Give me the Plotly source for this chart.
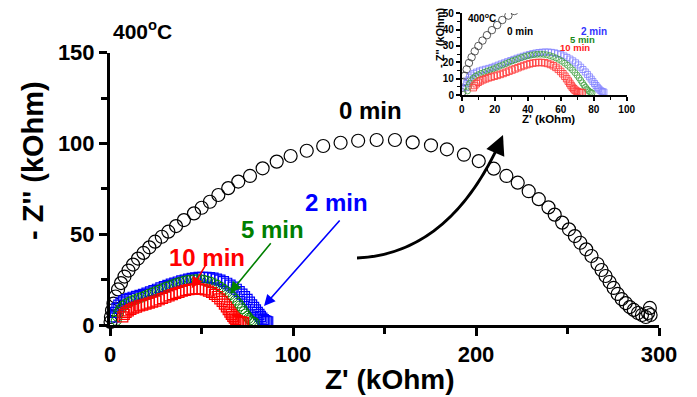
import plotly.graph_objects as go

# ---------------- data (kOhm) ----------------
z0_x = [0.3, 0.5, 1.1, 1.9, 3.0, 4.4, 6.0, 7.9, 10.1, 12.6, 15.3, 18.3, 21.5, 24.6, 28.3, 31.9,
        36.1, 40.4, 45.9, 50.1, 54.6, 59.2, 64.6, 70.1, 76.5, 83.4, 91.1, 98.7, 107.5, 116.5,
        126.0, 135.6, 145.7, 155.7, 165.4, 175.4, 184.1, 193.4, 201.5, 209.7, 216.6, 222.8,
        228.8, 234.3, 239.6, 243.0, 247.1, 250.8, 254.0, 257.0, 260.2, 263.1, 266.4, 268.6,
        270.8, 273.0, 275.2, 277.4, 279.6, 281.8, 284.0, 286.2, 288.5, 290.7, 292.8, 294.0,
        295.0, 295.4]
z0_y = [1.7, 4.4, 8.0, 11.8, 15.7, 19.6, 23.1, 26.7, 30.0, 33.3, 36.6, 39.7, 42.8, 45.9, 48.6,
        51.4, 54.5, 57.8, 61.5, 64.6, 67.9, 71.6, 75.4, 79.0, 82.1, 86.3, 90.0, 93.1, 96.0, 98.6,
        100.4, 101.5, 101.9, 101.9, 100.6, 99.0, 96.8, 93.8, 90.3, 86.1, 82.1, 78.4, 73.7, 69.3,
        64.8, 60.8, 56.4, 52.7, 49.0, 45.3, 41.7, 38.0, 33.6, 30.3, 27.0, 23.7, 20.4, 17.1, 14.3,
        12.1, 9.9, 8.3, 6.6, 5.5, 4.4, 6.6, 9.4, 5.5]

z2_x = [2.5, 3.0, 3.8, 4.8, 6.0, 7.4, 9.0, 10.8, 12.6, 14.5, 16.4, 18.3, 20.2, 22.1, 24.0, 25.9,
        27.8, 29.7, 31.6, 33.5, 35.4, 37.3, 39.2, 41.1, 43.0, 44.9, 46.8, 48.7, 50.6, 52.5, 54.4,
        56.3, 58.2, 60.1, 62.0, 63.8, 65.6, 67.3, 69.0, 70.6, 72.1, 73.5, 74.9, 76.2, 77.4, 78.5,
        79.5, 80.5, 81.4, 82.2, 83.0, 83.8, 84.6, 85.4, 86.2]
z2_y = [4.5, 7.0, 9.2, 10.9, 12.2, 13.2, 14.0, 14.7, 15.3, 15.8, 16.3, 16.9, 17.6, 18.3, 19.0,
        19.7, 20.4, 21.1, 21.8, 22.5, 23.1, 23.7, 24.3, 24.8, 25.3, 25.7, 26.0, 26.2, 26.3, 26.3,
        26.1, 25.8, 25.3, 24.7, 23.9, 23.0, 22.0, 20.9, 19.7, 18.4, 17.0, 15.6, 14.1, 12.6, 11.1,
        9.7, 8.3, 7.0, 5.8, 4.7, 3.8, 3.0, 2.4, 2.0, 1.8]

z5_x = [3.5, 4.0, 4.8, 5.8, 7.0, 8.4, 10.0, 11.7, 13.5, 15.3, 17.2, 19.1, 21.0, 22.9, 24.8, 26.7,
        28.6, 30.5, 32.4, 34.3, 36.2, 38.1, 40.0, 41.9, 43.8, 45.7, 47.6, 49.5, 51.4, 53.3, 55.2,
        57.1, 58.9, 60.7, 62.4, 64.1, 65.7, 67.2, 68.6, 69.9, 71.1, 72.2, 73.2, 74.1, 75.0, 75.8,
        76.6, 77.4, 78.2, 79.0]
z5_y = [2.5, 4.8, 7.0, 8.8, 10.3, 11.5, 12.4, 13.2, 13.9, 14.6, 15.3, 16.0, 16.8, 17.6, 18.4,
        19.2, 20.0, 20.8, 21.5, 22.2, 22.9, 23.5, 24.0, 24.4, 24.7, 24.9, 25.0, 24.9, 24.6, 24.1,
        23.5, 22.7, 21.8, 20.7, 19.5, 18.2, 16.8, 15.3, 13.7, 12.1, 10.5, 8.9, 7.4, 6.0, 4.8, 3.7,
        2.8, 2.1, 1.6, 1.3]

z10_x = [7.0, 7.8, 8.8, 10.0, 11.4, 12.9, 14.5, 16.2, 17.9, 19.7, 21.5, 23.3, 25.1, 26.9, 28.7,
         30.5, 32.3, 34.1, 35.9, 37.7, 39.5, 41.3, 43.1, 44.9, 46.7, 48.5, 50.3, 52.1, 53.8, 55.5,
         57.1, 58.6, 60.0, 61.3, 62.5, 63.6, 64.6, 65.5, 66.3, 67.1, 67.9, 68.7, 69.5, 70.3, 71.2,
         72.1, 73.0]
z10_y = [4.5, 5.8, 6.9, 7.8, 8.6, 9.3, 9.9, 10.5, 11.0, 11.5, 12.0, 12.6, 13.2, 13.9, 14.6, 15.3,
         16.0, 16.7, 17.4, 18.0, 18.6, 19.1, 19.5, 19.8, 19.9, 19.9, 19.7, 19.3, 18.7, 17.9, 16.9,
         15.7, 14.4, 13.0, 11.5, 10.0, 8.5, 7.1, 5.8, 4.7, 3.8, 3.0, 2.4, 2.0, 1.7, 1.5, 1.4]

labels = ["0 min", "2 min", "5 min", "10 min"]
main_x_ticks = [0, 100, 200, 300]
main_y_ticks = [0, 50, 100, 150]
inset_x_ticks = [0, 20, 40, 60, 80, 100]
inset_y_ticks = [0, 10, 20, 30, 40, 50]

FONT = "Liberation Sans, Arial, sans-serif"

# ---------------- layout helpers (pixel -> paper) ----------------
L, R, T, B = 110, 38, 10, 72
W, H = 697, 397
PW, PH = W - L - R, H - T - B


def PX(px):
    return (px - L) / PW


def PY(py):
    return (H - B - py) / PH


fig = go.Figure()

# main traces
fig.add_trace(go.Scatter(x=z0_x, y=z0_y, mode="markers", name=labels[0], cliponaxis=False,
                         marker=dict(symbol="circle-open", size=13, color="black",
                                     line=dict(width=1.2, color="black"))))
fig.add_trace(go.Scatter(x=z2_x, y=z2_y, mode="markers", name=labels[1], cliponaxis=False,
                         marker=dict(symbol="square-open", size=10, color="#0000ff",
                                     line=dict(width=1.2, color="#0000ff"))))
fig.add_trace(go.Scatter(x=z5_x, y=z5_y, mode="markers", name=labels[2], cliponaxis=False,
                         marker=dict(symbol="circle-open", size=10, color="#008000",
                                     line=dict(width=1.0, color="#008000"))))
fig.add_trace(go.Scatter(x=z10_x, y=z10_y, mode="markers", name=labels[3], cliponaxis=False,
                         marker=dict(symbol="square-open", size=10, color="#ff0000",
                                     line=dict(width=1.2, color="#ff0000"))))

# inset traces
fig.add_trace(go.Scatter(x=z0_x, y=z0_y, mode="markers", xaxis="x2", yaxis="y2",
                         marker=dict(symbol="circle-open", size=7.5, color="#333333",
                                     line=dict(width=0.8))))
fig.add_trace(go.Scatter(x=z2_x, y=z2_y, mode="markers", xaxis="x2", yaxis="y2",
                         marker=dict(symbol="square-open", size=6, color="#8080ff",
                                     line=dict(width=0.8))))
fig.add_trace(go.Scatter(x=z5_x, y=z5_y, mode="markers", xaxis="x2", yaxis="y2",
                         marker=dict(symbol="circle-open", size=6, color="#40a040",
                                     line=dict(width=0.8))))
fig.add_trace(go.Scatter(x=z10_x, y=z10_y, mode="markers", xaxis="x2", yaxis="y2",
                         marker=dict(symbol="square-open", size=6.5, color="#ff4040",
                                     line=dict(width=0.9))))

main_axis = dict(showline=True, linecolor="black", linewidth=3, mirror=False,
                 ticks="outside", ticklen=8, tickwidth=3, tickcolor="black",
                 showgrid=False, zeroline=False, automargin=False,
                 tickfont=dict(family=FONT, size=22, color="black", weight="bold"))
inset_axis = dict(showline=True, linecolor="black", linewidth=1.5, mirror=False,
                  ticks="outside", ticklen=4, tickwidth=1.5, tickcolor="black",
                  showgrid=False, zeroline=False, automargin=False,
                  tickfont=dict(family=FONT, size=10, color="black", weight="bold"))

fig.update_layout(
    width=W, height=H, autosize=False,
    margin=dict(l=L, r=R, t=T, b=B, autoexpand=False),
    paper_bgcolor="white", plot_bgcolor="rgba(0,0,0,0)",
    showlegend=False,
    xaxis=dict(main_axis, domain=[0, 1], range=[0, 300], tickvals=main_x_ticks,
               minor=dict(dtick=50, ticklen=6, tickwidth=3, ticks="outside", tickcolor="black"),
               anchor="y"),
    yaxis=dict(main_axis, domain=[0, PY(52.7)], range=[0, 150], tickvals=main_y_ticks,
               minor=dict(dtick=25, ticklen=6, tickwidth=3, ticks="outside", tickcolor="black"),
               anchor="x"),
    xaxis2=dict(inset_axis, domain=[PX(461.7), PX(626.7)], range=[0, 100],
                tickvals=inset_x_ticks,
                minor=dict(dtick=10, ticklen=3, tickwidth=1.2, ticks="outside", tickcolor="black"),
                anchor="y2", ticklabelstandoff=0),
    yaxis2=dict(inset_axis, domain=[PY(95), PY(13.3)], range=[0, 50], tickvals=inset_y_ticks,
                minor=dict(dtick=5, ticklen=3, tickwidth=1.2, ticks="outside", tickcolor="black"),
                anchor="x2", ticklabelstandoff=0),
)


def txt(text, px, py, size, color="black", angle=0):
    fig.add_annotation(text="<b>" + text + "</b>", x=PX(px), y=PY(py), xref="paper",
                       yref="paper", showarrow=False, textangle=angle,
                       xanchor="center", yanchor="middle",
                       font=dict(family=FONT, size=size, color=color))


# main text
txt("400<sup>o</sup>C", 142, 30, 21)
txt("0 min", 370, 111, 24)
txt("2 min", 336, 202, 24, "#0000ff")
txt("5 min", 272, 229, 24, "#008000")
txt("10 min", 207, 257, 24, "#ff0000")
txt("- Z'' (kOhm)", 33, 161, 29, angle=-90)
txt("Z' (kOhm)", 390, 379, 28)

# inset text
txt("400<sup>o</sup>C", 482, 17.5, 10)
txt("0 min", 520, 31.7, 10)
txt("2 min", 593.5, 31.5, 10, "#3333ff")
txt("5 min", 582, 39.5, 9.5, "#1a8a1a")
txt("10 min", 575, 47, 9.5, "#ff2020")
txt("- Z'' (kOhm)", 440, 38, 11, angle=-90)
txt("Z' (kOhm)", 548, 118.5, 11.5)


def dx(px):
    return (px - L) / PW * 300


def dy(py):
    return (H - B - py) / (PY(52.7) * PH) * 150


# straight colored arrows
for (tx, ty, hx, hy, col) in [(341, 219, 264, 306, "#0000ff"),
                              (272, 241.7, 230, 293, "#008000"),
                              (206.7, 263.3, 191.7, 288.3, "#ff0000")]:
    fig.add_annotation(x=dx(hx), y=dy(hy), ax=dx(tx), ay=dy(ty), xref="x", yref="y",
                       axref="x", ayref="y", showarrow=True, arrowhead=2, arrowsize=1.4,
                       arrowwidth=1.6, arrowcolor=col, text="")

# curved black arrow
fig.add_shape(type="path", xref="x", yref="y",
              path=f"M {dx(357)},{dy(258)} Q {dx(450)},{dy(254)} {dx(501)},{dy(140)}",
              line=dict(color="black", width=3))
fig.add_annotation(x=dx(503), y=dy(135), ax=dx(497), ay=dy(149), xref="x", yref="y",
                   axref="x", ayref="y", showarrow=True, arrowhead=2, arrowsize=1.3,
                   arrowwidth=3, arrowcolor="black", text="")

fig.write_html("out.html", config={"displayModeBar": False},
               post_script="document.body.style.margin='0px';document.body.style.padding='0px';")
